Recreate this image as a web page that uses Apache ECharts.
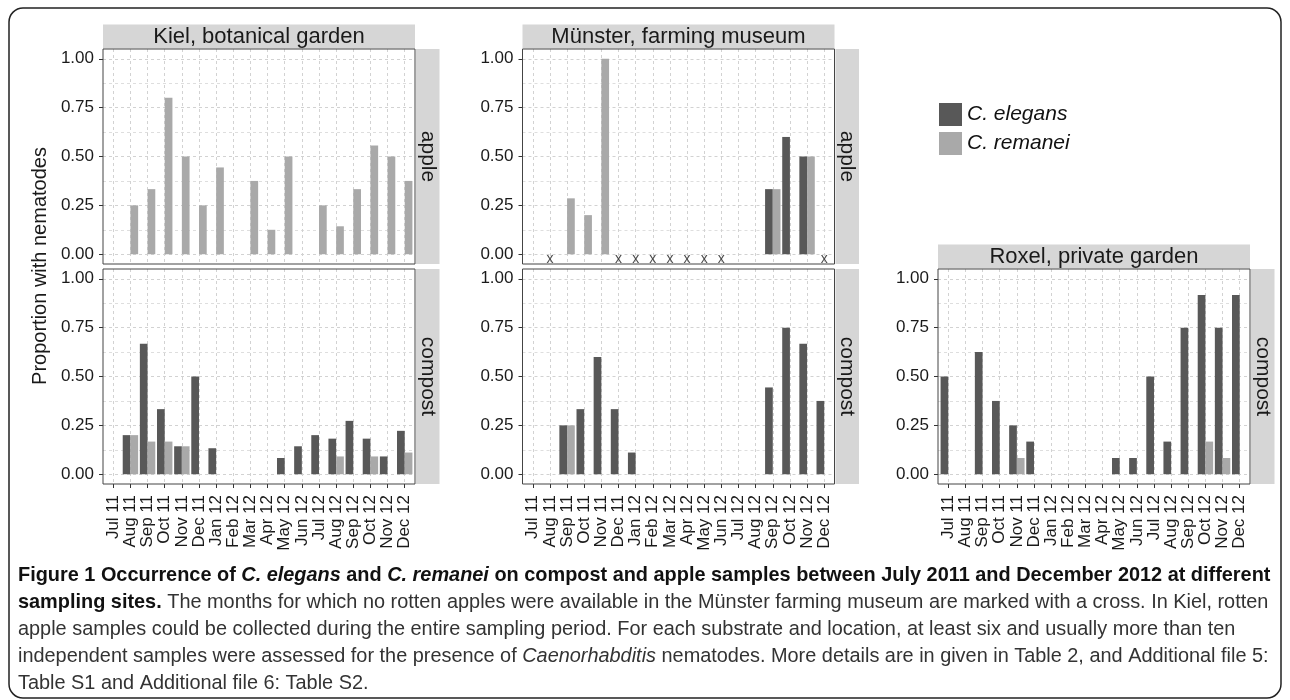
<!DOCTYPE html>
<html><head><meta charset="utf-8">
<script src="https://cdn.jsdelivr.net/npm/echarts@6/dist/echarts.min.js"></script>
<style>html,body{margin:0;padding:0;background:#fff}#c{width:1290px;height:700px}</style>
</head><body><div id="c"></div>
<script>
// ---------- data ----------
const months = ['Jul 11','Aug 11','Sep 11','Oct 11','Nov 11','Dec 11','Jan 12','Feb 12','Mar 12',
  'Apr 12','May 12','Jun 12','Jul 12','Aug 12','Sep 12','Oct 12','Nov 12','Dec 12'];

const kielAppleElegans   = [0,0,0,0,0,0,0,0,0,0,0,0,0,0,0,0,0,0];
const kielAppleRemanei   = [0,0.25,0.333,0.8,0.5,0.25,0.444,0,0.375,0.125,0.5,0,0.25,0.143,0.333,0.556,0.5,0.375];
const kielCompostElegans = [0,0.2,0.667,0.333,0.143,0.5,0.133,0,0,0,0.083,0.143,0.2,0.182,0.273,0.182,0.091,0.222];
const kielCompostRemanei = [0,0.2,0.167,0.167,0.143,0,0,0,0,0,0,0,0,0.091,0,0.091,0,0.111];
const munAppleElegans    = [0,0,0,0,0,0,0,0,0,0,0,0,0,0,0.333,0.6,0.5,0];
const munAppleRemanei    = [0,0,0.286,0.2,1.0,0,0,0,0,0,0,0,0,0,0.333,0,0.5,0];
const munCompostElegans  = [0,0,0.25,0.333,0.6,0.333,0.111,0,0,0,0,0,0,0,0.444,0.75,0.667,0.375];
const munCompostRemanei  = [0,0,0.25,0,0,0,0,0,0,0,0,0,0,0,0,0,0,0];
const roxCompostElegans  = [0.5,0,0.625,0.375,0.25,0.167,0,0,0,0,0.083,0.083,0.5,0.167,0.75,0.917,0.75,0.917];
const roxCompostRemanei  = [0,0,0,0,0.083,0,0,0,0,0,0,0,0,0,0,0.167,0.083,0];
// months without rotten apples in Münster (marked with a cross)
const munNoApple = ['Aug 11','Dec 11','Jan 12','Feb 12','Mar 12','Apr 12','May 12','Jun 12','Dec 12'];

const siteNames = ['Kiel, botanical garden','Münster, farming museum','Roxel, private garden'];
const substrates = ['apple','compost'];
const speciesNames = ['C. elegans','C. remanei'];

// ---------- style / layout ----------
const DARK = '#585858', LIGHT = '#a9a9a9';
const FONT = '"Liberation Sans", Arial, Helvetica, sans-serif';
const TXT = '#1a1a1a';
const GRIDC = '#d2d2d2';
const colLeft = [103, 522.5, 938], PW = 312;
const rowTop = [49, 269], PH = 215;
const STRIP = '#d6d6d6';

const panels = [
  {col:0,row:0,el:kielAppleElegans,re:kielAppleRemanei},
  {col:0,row:1,el:kielCompostElegans,re:kielCompostRemanei},
  {col:1,row:0,el:munAppleElegans,re:munAppleRemanei,cross:munNoApple},
  {col:1,row:1,el:munCompostElegans,re:munCompostRemanei},
  {col:2,row:1,el:roxCompostElegans,re:roxCompostRemanei}
];

const grids = [], xAxes = [], yAxes = [], series = [], graphics = [];
const dashed = {type:[3,3], color:GRIDC, width:1};

panels.forEach(p => {
  const L = colLeft[p.col], T = rowTop[p.row];
  const ux = PW / 18.2, padX = 0.6 * ux, iw = 17 * ux;
  const uy = PH / 1.1, padY = 0.05 * uy, ih = uy;
  // horizontal grid lines + y labels
  let gi = grids.length;
  grids.push({left:L, top:T+padY, width:PW, height:ih, outerBoundsMode:'none'});
  xAxes.push({gridIndex:gi, type:'value', show:false});
  yAxes.push({gridIndex:gi, type:'value', min:0, max:1, interval:0.25,
    axisLine:{show:false},
    axisTick:{show:true, length:4, lineStyle:{color:'#333'}},
    axisLabel:{formatter:v=>v.toFixed(2), fontSize:17, color:TXT, margin:9, fontFamily:FONT},
    splitLine:{show:true, lineStyle:dashed},
    minorTick:{show:false, splitNumber:2},
    minorSplitLine:{show:true, lineStyle:{type:[3,3], color:'#dedede', width:1}}});
  // vertical grid lines + x labels
  gi = grids.length;
  grids.push({left:L+padX, top:T, width:iw, height:PH, outerBoundsMode:'none'});
  xAxes.push({gridIndex:gi, type:'category', data:months, boundaryGap:false,
    axisLine:{show:false},
    axisTick:{show:p.row===1, interval:0, length:4, lineStyle:{color:'#333'}},
    axisLabel:{show:p.row===1, interval:0, rotate:90, fontSize:17, color:TXT, margin:11, fontFamily:FONT},
    splitLine:{show:true, interval:0, lineStyle:dashed}});
  yAxes.push({gridIndex:gi, type:'value', min:0, max:1, show:false, splitLine:{show:false}});
  // data grid
  gi = grids.length;
  grids.push({left:L+padX, top:T+padY, width:iw, height:ih, outerBoundsMode:'none'});
  xAxes.push({gridIndex:gi, type:'category', data:months, boundaryGap:false, show:false});
  yAxes.push({gridIndex:gi, type:'value', min:0, max:1, show:false, splitLine:{show:false}});
  series.push({type:'bar', name:speciesNames[0], xAxisIndex:gi, yAxisIndex:gi, data:p.el,
    barGap:'0%', barCategoryGap:'10%', clip:false, itemStyle:{color:DARK}, silent:true});
  series.push({type:'bar', name:speciesNames[1], xAxisIndex:gi, yAxisIndex:gi, data:p.re,
    barGap:'0%', barCategoryGap:'10%', clip:false, itemStyle:{color:LIGHT}, silent:true});
  if (p.cross) {
    series.push({type:'scatter', xAxisIndex:gi, yAxisIndex:gi, data:p.cross.map(m=>[m,0]),
      symbolSize:1, itemStyle:{color:'transparent'}, clip:false, silent:true, z:5,
      label:{show:true, formatter:'x', position:'inside', offset:[0,4.5], fontSize:14, color:TXT, fontFamily:FONT}});
  }
  // panel border
  graphics.push({type:'rect', z:100, shape:{x:L, y:T, width:PW, height:PH},
    style:{fill:null, stroke:'#444', lineWidth:1}});
  // right strip
  graphics.push({type:'rect', z:90, shape:{x:L+PW+1, y:T, width:23.5, height:PH}, style:{fill:STRIP}});
  graphics.push({type:'text', z:91, x:L+PW+12.5, y:T+PH/2, rotation:-Math.PI/2,
    style:{text:substrates[p.row], fontSize:21, fontFamily:FONT, fill:TXT, align:'center', verticalAlign:'middle'}});
  // top strip (first row of each column)
  const topRow = (p.col === 2) ? 1 : 0;
  if (p.row === topRow) {
    graphics.push({type:'rect', z:90, shape:{x:L, y:T-24.5, width:PW, height:24}, style:{fill:STRIP}});
    graphics.push({type:'text', z:91, x:L+PW/2, y:T-12, 
      style:{text:siteNames[p.col], fontSize:22, fontFamily:FONT, fill:TXT, align:'center', verticalAlign:'middle'}});
  }
});

// y axis title
graphics.push({type:'text', x:40, y:266, rotation:Math.PI/2,
  style:{text:'Proportion with nematodes', fontSize:20, fontFamily:FONT, fill:TXT, align:'center', verticalAlign:'middle'}});

// caption
const CF = '"Liberation Sans", Arial, sans-serif';
const CS = 19.9;
const rich = {
  b:{fontWeight:'bold', fontSize:CS, fontFamily:CF, fill:'#111'},
  bi:{fontWeight:'bold', fontStyle:'italic', fontSize:CS, fontFamily:CF, fill:'#111'},
  r:{fontSize:CS, fontFamily:CF, fill:'#333'},
  i:{fontStyle:'italic', fontSize:CS, fontFamily:CF, fill:'#333'}
};
const capLines = [
  '{b|Figure 1 Occurrence of }{bi|C. elegans}{b| and }{bi|C. remanei}{b| on compost and apple samples between July 2011 and December 2012 at different}',
  '{b|sampling sites.}{r| The months for which no rotten apples were available in the Münster farming museum are marked with a cross. In Kiel, rotten}',
  '{r|apple samples could be collected during the entire sampling period. For each substrate and location, at least six and usually more than ten}',
  '{r|independent samples were assessed for the presence of }{i|Caenorhabditis}{r| nematodes. More details are in given in Table 2, and Additional file 5:}',
  '{r|Table S1 and Additional file 6: Table S2.}'
];
capLines.forEach((t, k) => {
  graphics.push({type:'text', x:18, y:576 + k*26.8,
    style:{text:t, rich:rich, fontSize:CS, fontFamily:CF, align:'left', verticalAlign:'middle'}});
});
// frame
graphics.push({type:'rect', shape:{x:9, y:8, width:1272, height:690, r:14},
  style:{fill:null, stroke:'#222', lineWidth:1.5}});

const chart = echarts.init(document.getElementById('c'), null, {renderer:'canvas'});
chart.setOption({
  animation:false,
  backgroundColor:'#fff',
  grid:grids, xAxis:xAxes, yAxis:yAxes, series:series,
  legend:{left:939, top:103, padding:0, orient:'vertical', icon:'rect', itemWidth:23, itemHeight:23, itemGap:6,
    data:speciesNames, selectedMode:false,
    textStyle:{fontSize:21, fontStyle:'italic', color:'#111', fontFamily:FONT}},
  graphic:{elements:graphics}
});
</script></body></html>
